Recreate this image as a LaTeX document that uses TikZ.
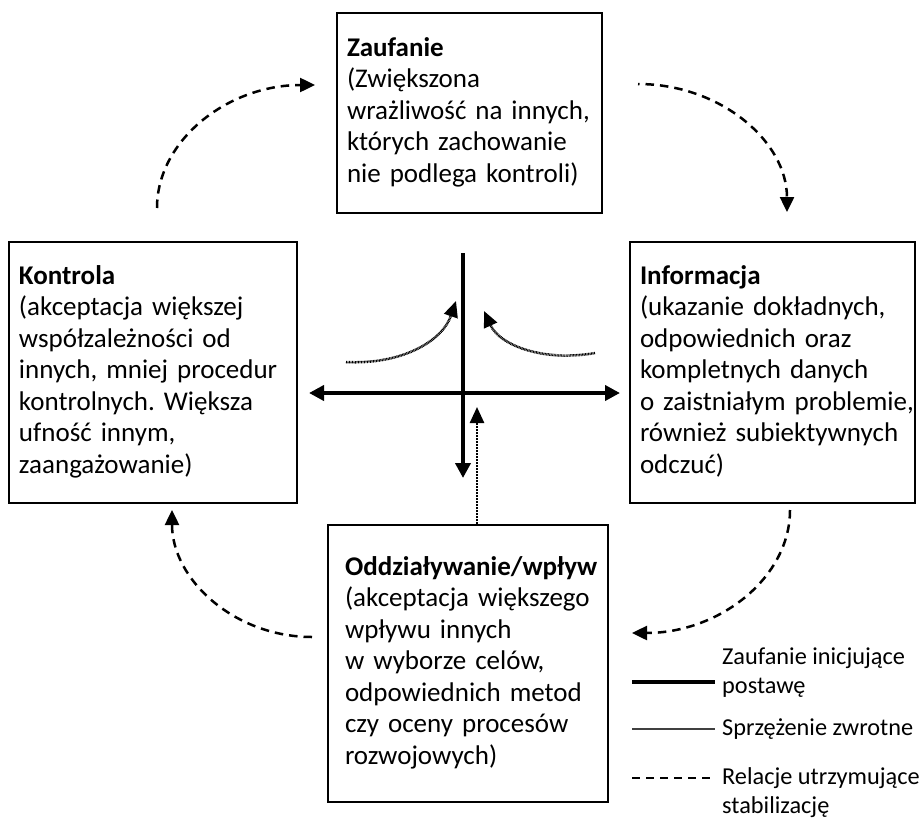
\documentclass[tikz,border=0pt]{standalone}
\usepackage{fontspec}
\setmainfont{Carlito}
\usetikzlibrary{arrows.meta}
\newcommand\stacklines[1]{\begin{tabular}{@{}l@{}}#1\end{tabular}}
\begin{document}
\frenchspacing
\begin{tikzpicture}[x=1pt,y=-1pt,
  txt/.style={font=\fontsize{27}{31.5}\selectfont},
  box/.style={txt, draw, line width=1.4pt, align=left, inner xsep=10pt, inner ysep=0pt},
  axis/.style={line width=4pt, {Triangle[length=15pt,width=15pt]}-{Triangle[length=15pt,width=15pt]}},
  axisdown/.style={line width=4pt, -{Triangle[length=15pt,width=15pt]}},
  feedback/.style={line width=2.5pt, dash pattern=on 0.9pt off 0.6pt, -{Triangle[length=16pt,width=14pt]}},
  stab/.style={line width=2.5pt, dash pattern=on 8.5pt off 6pt, -{Triangle[length=15pt,width=14pt]}},
  legtxt/.style={font=\fontsize{24.3}{29}\selectfont, align=left, inner sep=0pt, anchor=west}
]
\useasboundingbox (0,0) rectangle (924,819);

% the four boxes
\node[box, text width=245pt, minimum height=200pt] (zauf) at (469.5,113)
  {\stacklines{\textbf{Zaufanie}\\(Zwiększona\\wrażliwość na innych,\\których zachowanie\\nie podlega kontroli)}};
\node[box, text width=268pt, minimum height=261pt] (kontr) at (153,372.5)
  {\stacklines{\textbf{Kontrola}\\(akceptacja większej\\współzależności od\\innych, mniej procedur\\kontrolnych. Większa\\ufność innym,\\zaangażowanie)}};
\node[box, text width=265pt, minimum height=261pt] (info) at (772.5,372.5)
  {\stacklines{\textbf{Informacja}\\(ukazanie dokładnych,\\odpowiednich oraz\\kompletnych danych\\o zaistniałym problemie,\\również subiektywnych\\odczuć)}};
\node[box, inner xsep=17pt, text width=246pt, minimum height=277pt] (oddz) at (468,663.5)
  {\stacklines{\textbf{Oddziaływanie/wpływ}\\(akceptacja większego\\wpływu innych\\w wyborze celów,\\odpowiednich metod\\czy oceny procesów\\rozwojowych)}};

% central cross
\coordinate (vtop) at (463,253);
\coordinate (vmid) at (463,393);
\coordinate (vbot) at (463,478);
\coordinate (hl) at (309,393);
\coordinate (hr) at (620,393);
\draw[line width=4pt] (vtop) -- (vmid);
\draw[axisdown] (vmid) -- (vbot);
\draw[axis] (hl) -- (hr);

% feedback arrows
\coordinate (fbtip) at (477,407);
\draw[feedback] (oddz.north -| fbtip) -- (fbtip);
\coordinate (fl1) at (346,362);
\coordinate (fl2) at (456,301);
\draw[feedback] (fl1) .. controls (400,365) and (442,342) .. (fl2);
\coordinate (fr1) at (595,353);
\coordinate (fr2) at (484,311);
\draw[feedback] (fr1) .. controls (545,362) and (500,346) .. (fr2);

% stabilising loop
\coordinate (a1) at (157,208);
\coordinate (a2) at (315,85);
\draw[stab] (a1) .. controls (157,140) and (228,85) .. (a2);
\coordinate (b1) at (638,84);
\coordinate (b2) at (787,212);
\draw[stab, dash phase=7pt] (b1) .. controls (720,84) and (787,141) .. (b2);
\coordinate (c1) at (790,510);
\coordinate (c2) at (632,633);
\draw[stab] (c1) .. controls (790,578) and (719,633) .. (c2);
\coordinate (d1) at (312,637);
\coordinate (d2) at (172,510);
\draw[stab] (d1) .. controls (235,637) and (172,580) .. (d2);

% legend
\coordinate (l1a) at (632,682); \coordinate (l1b) at (715,682);
\draw[line width=4pt] (l1a) -- (l1b);
\node[legtxt] (leg1) at (722,673) {Zaufanie inicjujące\\postawę};
\coordinate (l2a) at (632,729); \coordinate (l2b) at (715,729);
\draw[line width=1.3pt, black!75, dash pattern=on 0.5pt off 0.3pt] (l2a) -- (l2b);
\node[legtxt] (leg2) at (722,729) {Sprzężenie zwrotne};
\coordinate (l3a) at (632,778); \coordinate (l3b) at (715,778);
\draw[line width=2pt, dash pattern=on 8pt off 6pt] (l3a) -- (l3b);
\node[legtxt] (leg3) at (722,793) {Relacje utrzymujące\\stabilizację};
\end{tikzpicture}
\end{document}
